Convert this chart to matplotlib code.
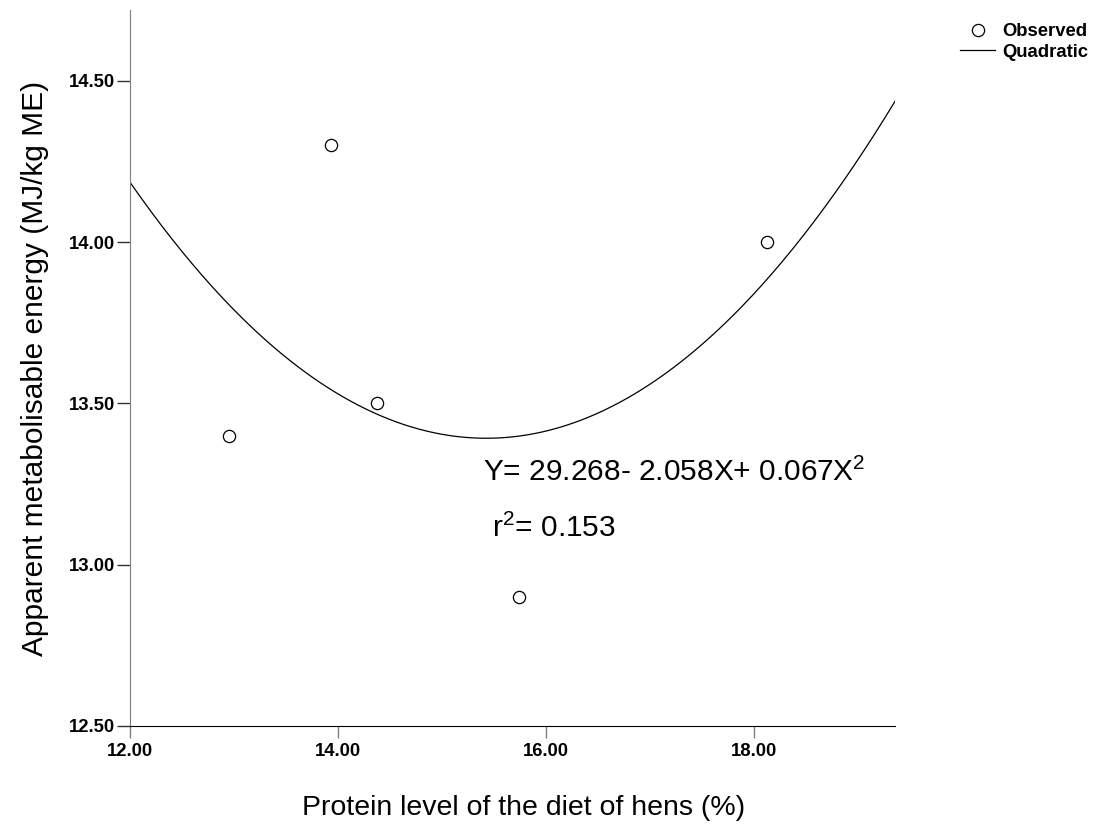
import matplotlib
matplotlib.use("Agg")
import matplotlib.pyplot as plt
import numpy as np

# ── Data ──────────────────────────────────────────────────────────────────────
protein = [12.95, 13.94, 14.38, 15.74, 18.13]     # % crude protein
ame     = [13.40, 14.30, 13.50, 12.90, 14.00]     # MJ/kg ME
x_ticks = [12.0, 14.0, 16.0, 18.0]
y_ticks = [12.5, 13.0, 13.5, 14.0, 14.5]
equation = "Y= 29.268- 2.058X+ 0.067X$^2$"
r2_text  = "r$^2$= 0.153"

plt.rcParams["font.family"] = ["Liberation Sans", "DejaVu Sans"]
plt.rcParams["mathtext.fontset"] = "custom"
plt.rcParams["mathtext.rm"] = "Liberation Sans"
plt.rcParams["mathtext.default"] = "rm"

# ── Canvas ────────────────────────────────────────────────────────────────────
fig = plt.figure(figsize=(10.94, 8.31), dpi=100)
ax = fig.add_axes([0.1186, 0.1264, 0.6996, 0.8616])
ax.set_xlim(12.0, 19.36)
ax.set_ylim(12.5, 14.72)

# quadratic fit through the observed points
coef = np.polyfit(protein, ame, 2)
xs = np.linspace(12.0, 19.36, 300)
line, = ax.plot(xs, np.polyval(coef, xs), color="black", lw=0.9,
                label="Quadratic", zorder=2)
pts, = ax.plot(protein, ame, "o", ms=8.8, mfc="white", mec="black",
               mew=0.9, label="Observed", zorder=3)

# ── Axes styling ──────────────────────────────────────────────────────────────
for s in ("top", "right"):
    ax.spines[s].set_visible(False)
ax.spines["left"].set_color("#7f7f7f")
ax.spines["bottom"].set_color("black")
ax.set_xticks(x_ticks)
ax.set_yticks(y_ticks)
ax.set_xticklabels([f"{v:.2f}" for v in x_ticks])
ax.set_yticklabels([f"{v:.2f}" for v in y_ticks])
ax.tick_params(axis="x", direction="out", length=8.6, width=1,
               color="#7f7f7f", pad=4, labelsize=13.3)
ax.tick_params(axis="y", direction="out", length=9.5, width=1,
               color="#333333", pad=0.8, labelsize=13.3)
for t in ax.get_xticklabels() + ax.get_yticklabels():
    t.set_fontweight("bold")

ax.set_xlabel("Protein level of the diet of hens (%)", fontsize=20.5)
ax.xaxis.set_label_coords(0.515, -0.097)
ax.set_ylabel("Apparent metabolisable energy (MJ/kg ME)", fontsize=21.5)
ax.yaxis.set_label_coords(-0.106, 0.5)

# ── Equation ──────────────────────────────────────────────────────────────────
fig.text(0.4415, 0.4212, equation, fontsize=21.5, va="baseline")
fig.text(0.4495, 0.3538, r2_text, fontsize=21.5, va="baseline")

# ── Legend ────────────────────────────────────────────────────────────────────
fig.legend(handles=[pts, line], loc="upper left",
           bbox_to_anchor=(960 / 1094, 1 - 23 / 831),
           frameon=False, borderpad=0, borderaxespad=0,
           handlelength=1.9, handletextpad=0.4, labelspacing=0.2,
           prop={"weight": "bold", "size": 13.3})

fig.savefig("out.png", dpi=100, facecolor="white")
